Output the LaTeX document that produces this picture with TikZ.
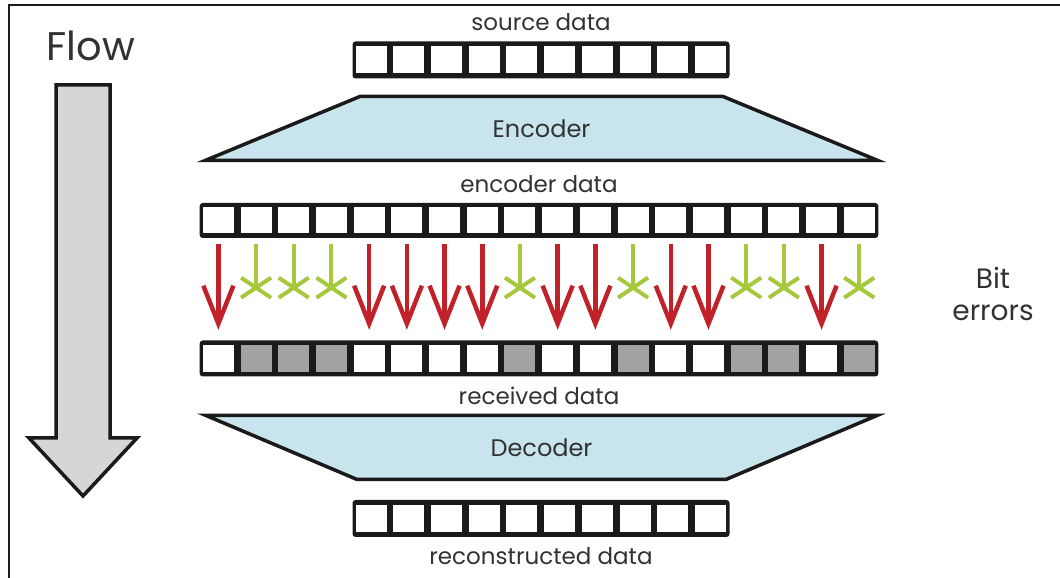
\documentclass[tikz,border=0pt]{standalone}
\usepackage{fontspec}
\setmainfont{Poppins}
\usepackage{xcolor}
\usepackage{tikz}
\usetikzlibrary{shapes.geometric, arrows.meta, positioning}

\definecolor{coderblue}{RGB}{200,228,237}
\definecolor{errgray}{RGB}{163,163,163}
\definecolor{flipred}{RGB}{193,34,42}
\definecolor{keepgreen}{RGB}{166,200,60}
\definecolor{flowgray}{RGB}{214,214,214}
\definecolor{inktext}{RGB}{50,50,50}
\definecolor{ink}{RGB}{26,26,26}

\begin{document}
\begin{tikzpicture}[
  x=1pt, y=1pt,
  node distance=10pt,
  lbl/.style={text=inktext, font=\fontsize{23}{26}\selectfont, inner sep=0pt},
  coder/.style={trapezium, trapezium stretches=true, trapezium left angle=29, trapezium right angle=29, draw=ink, fill=coderblue, line width=3.5pt, minimum width=673pt, minimum height=64pt, text=inktext, font=\fontsize{24}{28}\selectfont},
  rowbox/.style={rectangle, fill=ink, rounded corners=3pt, minimum height=37pt, inner sep=0pt},
  cell/.style={rectangle, fill=white, minimum width=31pt, minimum height=27pt, inner sep=0pt},
  badcell/.style={cell, fill=errgray},
  flip/.style={draw=flipred, line width=4.5pt, -{Straight Barb[length=38pt, width=30pt]}},
  keep/.style={draw=keepgreen, line width=4pt},
  flowarrow/.style={draw=ink, fill=flowgray, line width=3.5pt, line join=miter}
]
\useasboundingbox (0,0) rectangle (1060,578);
\draw[ink, line width=1.5pt] (9,0) -- (9,573) -- (1060,573);

% Flow
\node (flow) [lbl, font=\fontsize{40}{44}\selectfont] at (91,532) {Flow};
\draw[flowarrow] (56,493) -- (110,493) -- (110,140) -- (137,140) -- (83,82) -- (29,140) -- (56,140) -- cycle;

% Rows and coders
\node (srcrow) [rowbox, minimum width=377pt] at (541,518) {};
\node (enc) [coder] at (541.5,449.5) {Encoder};
\node (encrow) [rowbox, minimum width=678.6pt, minimum height=35pt] at (539,357.5) {};
\node (rxrow) [rowbox, minimum width=678.6pt, minimum height=36pt] at (539,219.5) {};
\node (dec) [coder, shape border rotate=180] at (541.5,130.5) {Decoder};
\node (outrow) [rowbox, minimum width=377pt] at (541,59.5) {};

% Labels
\node (srclbl) [lbl, above=of srcrow] {source data};
\node (enclbl) [lbl, above=of encrow] {encoder data};
\node (rxlbl) [lbl, below=of rxrow] {received data};
\node (outlbl) [lbl, below=of outrow] {reconstructed data};
\node (bits) [lbl, align=center, font=\fontsize{28}{32}\selectfont] at (993,284) {Bit\\errors};

% Cells
\foreach \i in {1,...,10} {
  \node (s\i) [cell] at ([xshift=37.7*\i-18.85]srcrow.west) {};
  \node (o\i) [cell] at ([xshift=37.7*\i-18.85]outrow.west) {};
}
\foreach \i/\b in {1/0,2/1,3/1,4/1,5/0,6/0,7/0,8/0,9/1,10/0,11/0,12/1,13/0,14/0,15/1,16/1,17/0,18/1} {
  \node (e\i) [cell, minimum height=26pt] at ([xshift=37.7*\i-18.85]encrow.west) {};
  \ifnum\b=1
    \node (r\i) [badcell] at ([xshift=37.7*\i-18.85]rxrow.west) {};
  \else
    \node (r\i) [cell] at ([xshift=37.7*\i-18.85]rxrow.west) {};
  \fi
}

% Bit flips
\foreach \i/\b in {1/0,2/1,3/1,4/1,5/0,6/0,7/0,8/0,9/1,10/0,11/0,12/1,13/0,14/0,15/1,16/1,17/0,18/1} {
  \ifnum\b=0
    \draw[flip] ([yshift=-10pt]e\i.south) -- ([yshift=15pt]r\i.north);
  \else
    \coordinate (k\i) at ([yshift=-54pt]e\i.south);
    \draw[keep] ([yshift=-10pt]e\i.south) -- (k\i);
    \draw[keep] ([shift={(-15pt,10pt)}]k\i) -- ([shift={(15pt,-10pt)}]k\i)
                ([shift={(-15pt,-10pt)}]k\i) -- ([shift={(15pt,10pt)}]k\i);
  \fi
}
\end{tikzpicture}
\end{document}
